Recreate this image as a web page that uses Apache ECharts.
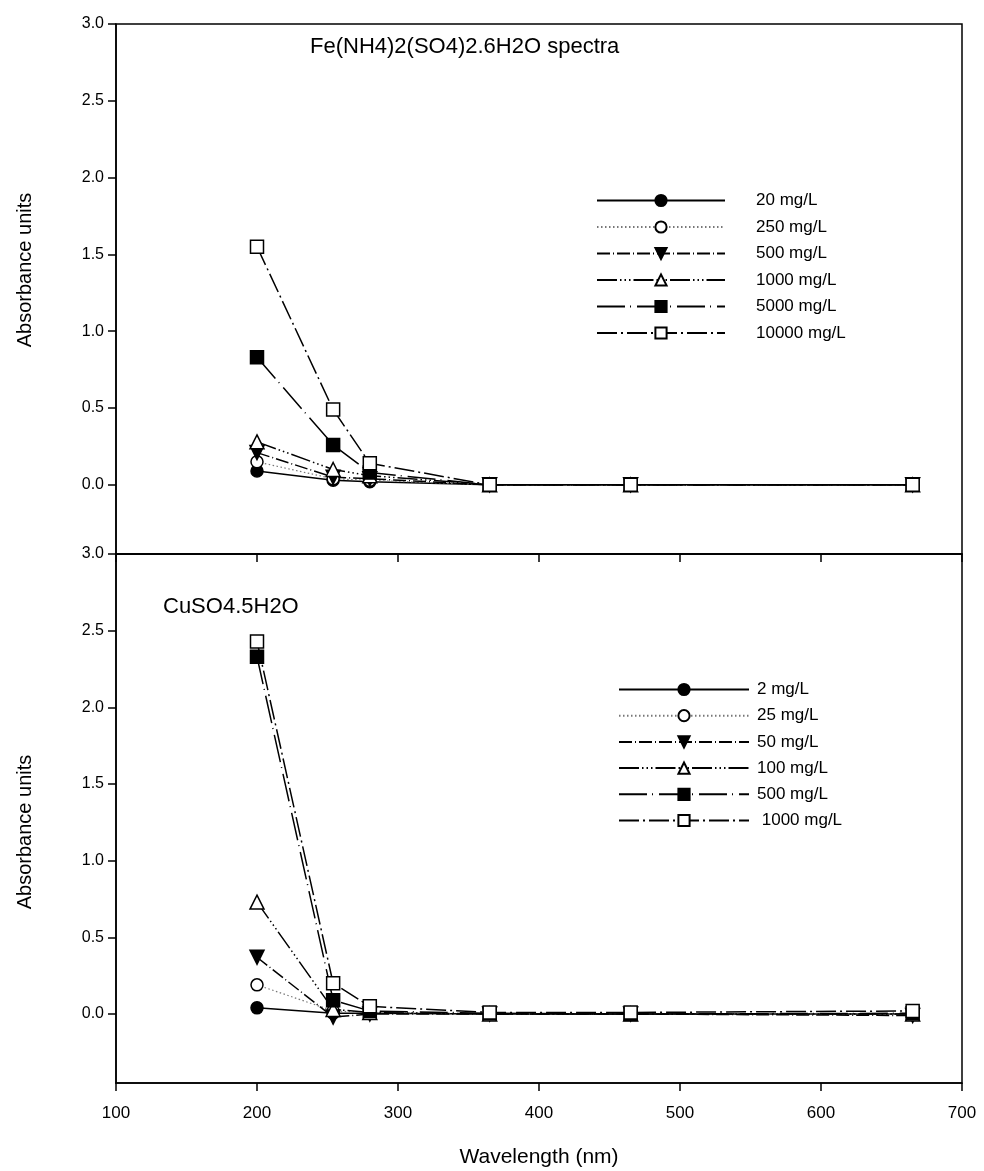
<!DOCTYPE html>
<html>
<head>
<meta charset="utf-8">
<script src="https://cdn.jsdelivr.net/npm/echarts@6/dist/echarts.min.js"></script>
<style>
html,body{margin:0;padding:0;background:#fff;}
#chart{width:984px;height:1171px;}
</style>
</head>
<body>
<div id="chart"></div>
<script>
// ---- data ----
const wavelengths = [200, 254, 280, 365, 465, 665];
const yTicks = [0, 0.5, 1.0, 1.5, 2.0, 2.5, 3.0];
const xTicks = [100, 200, 300, 400, 500, 600, 700];

const feNames = ['20 mg/L', '250 mg/L', '500 mg/L', '1000 mg/L', '5000 mg/L', '10000 mg/L'];
const fe20    = [0.09, 0.03, 0.02, 0, 0, 0];
const fe250   = [0.15, 0.04, 0.03, 0, 0, 0];
const fe500   = [0.21, 0.05, 0.04, 0, 0, 0];
const fe1000  = [0.28, 0.10, 0.06, 0, 0, 0];
const fe5000  = [0.83, 0.26, 0.08, 0, 0, 0];
const fe10000 = [1.55, 0.49, 0.14, 0, 0, 0];

const cuNames = ['2 mg/L', '25 mg/L', '50 mg/L', '100 mg/L', '500 mg/L', ' 1000 mg/L'];
const cu2    = [0.04, 0.005, 0.005, 0, 0, 0];
const cu25   = [0.19, 0.02, 0.01, 0, 0, 0];
const cu50   = [0.37, -0.02, 0.0, 0, 0, -0.01];
const cu100  = [0.73, 0.03, 0.01, 0, 0, 0];
const cu500  = [2.33, 0.09, 0.02, 0.005, 0, 0.005];
const cu1000 = [2.43, 0.20, 0.05, 0.01, 0.01, 0.02];

const feTitle = 'Fe(NH4)2(SO4)2.6H2O spectra';
const cuTitle = 'CuSO4.5H2O';
const yTitle = 'Absorbance units';
const xTitle = 'Wavelength (nm)';

// ---- styles ----
const FONT = 'Liberation Sans, Arial, sans-serif';
const styles = [
  {symbol: 'circle',   size: 12, fill: '#000', dash: 'solid', rotate: 0, color: '#000', width: 1.5},
  {symbol: 'circle',   size: 12, fill: '#fff', dash: [1.5, 2.5], rotate: 0, color: '#777', width: 1.2},
  {symbol: 'triangle', size: 14, fill: '#000', dash: [13, 3, 1, 3], rotate: 180, color: '#000', width: 1.5},
  {symbol: 'triangle', size: 14, fill: '#fff', dash: [20, 3, 1.5, 3, 1.5, 3, 1.5, 3], rotate: 0, color: '#000', width: 1.5},
  {symbol: 'rect',     size: 13, fill: '#000', dash: [28, 5, 1, 6], rotate: 0, color: '#000', width: 1.5},
  {symbol: 'rect',     size: 13, fill: '#fff', dash: [20, 4, 2, 4], rotate: 0, color: '#000', width: 1.5}
];

function mkSeries(prefix, names, arrays, idx) {
  return arrays.map((arr, i) => {
    const s = styles[i];
    return {
      type: 'line',
      name: prefix + names[i],
      xAxisIndex: idx, yAxisIndex: idx,
      data: wavelengths.map((w, k) => [w, arr[k]]),
      symbol: s.symbol,
      symbolSize: s.size,
      symbolRotate: s.rotate,
      showAllSymbol: true,
      lineStyle: {color: s.color, width: s.width, type: s.dash},
      itemStyle: {color: s.fill, borderColor: '#000', borderWidth: 1.5},
      emphasis: {disabled: true},
      animation: false
    };
  });
}

function mkX(idx, showLabels) {
  return {
    type: 'value', gridIndex: idx, min: 100, max: 700, interval: 100,
    axisLine: {show: true, onZero: false, lineStyle: {color: '#000', width: 1.5}},
    axisTick: {show: true, inside: false, length: 8, lineStyle: {color: '#000', width: 1.5}},
    axisLabel: {show: showLabels, color: '#000', fontSize: 17, fontFamily: FONT, margin: 22},
    splitLine: {show: false},
    name: showLabels ? xTitle : '',
    nameLocation: 'middle', nameGap: 64,
    nameTextStyle: {color: '#000', fontSize: 21, fontFamily: FONT}
  };
}
function mkY(idx) {
  return {
    type: 'value', gridIndex: idx, min: -0.45, max: 3.0,
    axisLine: {show: true, onZero: false, lineStyle: {color: '#000', width: 1.5}},
    axisTick: {show: true, inside: false, length: 8, customValues: yTicks, lineStyle: {color: '#000', width: 1.5}},
    axisLabel: {show: true, color: '#000', fontSize: 16, fontFamily: FONT, margin: 12,
      customValues: yTicks, formatter: v => v.toFixed(1)},
    splitLine: {show: false}
  };
}

function yName(cy) {
  return {type: 'text', x: 25, y: cy, rotation: Math.PI / 2, silent: true,
    style: {text: yTitle, fill: '#000', font: '20px ' + FONT, textAlign: 'center', textVerticalAlign: 'middle'}};
}

const chart = echarts.init(document.getElementById('chart'), null, {renderer: 'canvas'});
chart.setOption({
  backgroundColor: '#fff',
  animation: false,
  title: [
    {text: feTitle, left: 305, top: 31, textStyle: {color: '#000', fontSize: 22, fontWeight: 'normal', fontFamily: FONT}},
    {text: cuTitle, left: 158, top: 591, textStyle: {color: '#000', fontSize: 22, fontWeight: 'normal', fontFamily: FONT}}
  ],
  grid: [
    {left: 116, top: 24, width: 846, height: 530, show: true, borderColor: '#000', borderWidth: 1.5, backgroundColor: 'transparent'},
    {left: 116, top: 554, width: 846, height: 529, show: true, borderColor: '#000', borderWidth: 1.5, backgroundColor: 'transparent'}
  ],
  xAxis: [mkX(0, false), mkX(1, true)],
  yAxis: [mkY(0), mkY(1)],
  graphic: [yName(270), yName(832)],
  legend: [
    {data: feNames.map(n => 'Fe ' + n), formatter: n => n.slice(3),
     orient: 'vertical', left: 591, top: 187, itemWidth: 128, itemHeight: 14, itemGap: 9.5,
     selectedMode: false, textStyle: {color: '#000', fontSize: 17, fontFamily: FONT, padding: [0, 0, 0, 26]}},
    {data: cuNames.map(n => 'Cu ' + n), formatter: n => n.slice(3),
     orient: 'vertical', left: 613, top: 676, itemWidth: 130, itemHeight: 14, itemGap: 9.2,
     selectedMode: false, textStyle: {color: '#000', fontSize: 17, fontFamily: FONT, padding: [0, 0, 0, 3]}}
  ],
  series: [
    ...mkSeries('Fe ', feNames, [fe20, fe250, fe500, fe1000, fe5000, fe10000], 0),
    ...mkSeries('Cu ', cuNames, [cu2, cu25, cu50, cu100, cu500, cu1000], 1)
  ]
});
</script>
</body>
</html>
